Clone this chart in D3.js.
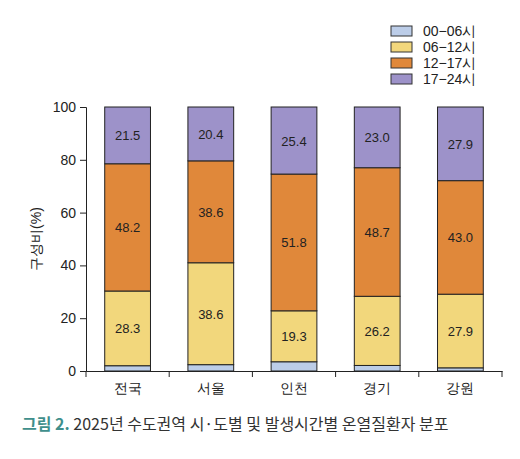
<!DOCTYPE html>
<html><head><meta charset="utf-8">
<script src="https://cdn.jsdelivr.net/npm/d3@7"></script>
<style>body{margin:0;background:#fff}svg{display:block}</style>
</head><body><div id="chart"></div>
<script>
const regions = ["전국", "서울", "인천", "경기", "강원"];
const seriesNames = ["00-06시", "06-12시", "12-17시", "17-24시"];
const v0006 = [2.0, 2.4, 3.5, 2.1, 1.2];
const v0612 = [28.3, 38.6, 19.3, 26.2, 27.9];
const v1217 = [48.2, 38.6, 51.8, 48.7, 43.0];
const v1724 = [21.5, 20.4, 25.4, 23.0, 27.9];
const colors = ["#bccde8", "#f2d77c", "#e0883a", "#9d92c9"];
const yTicks = [0, 20, 40, 60, 80, 100];

const rows = regions.map((r, i) => ({region: r, s0: v0006[i], s1: v0612[i], s2: v1217[i], s3: v1724[i]}));
const stack = d3.stack().keys(["s0", "s1", "s2", "s3"])(rows);

const svg = d3.select("#chart").append("svg").attr("width", 520).attr("height", 459);
const font = "'Liberation Sans', Arial, sans-serif";

const x = d3.scaleBand().domain(regions).range([86, 502]).paddingInner(0.45).paddingOuter(0.225);
const y = d3.scaleLinear().domain([0, 100]).range([371, 107]);

// 막대
stack.forEach((layer, k) => {
    svg.append("g").selectAll("rect").data(layer).enter().append("rect")
        .attr("x", d => x(d.data.region)).attr("width", x.bandwidth())
        .attr("y", d => y(d[1])).attr("height", d => y(d[0]) - y(d[1]))
        .attr("fill", colors[k]).attr("stroke", "#222").attr("stroke-width", 1);
    if (k > 0) {
        svg.append("g").selectAll("text").data(layer).enter().append("text")
            .attr("x", d => x(d.data.region) + x.bandwidth() / 2)
            .attr("y", d => y((d[0] + d[1]) / 2) + 5)
            .attr("text-anchor", "middle").attr("font-family", font).attr("font-size", 13).attr("fill", "#222")
            .text(d => (d[1] - d[0]).toFixed(1));
    }
});

// 축
const xAxis = svg.append("g").attr("transform", "translate(0,371)")
    .call(d3.axisBottom(x).tickSize(0).tickPadding(12));
xAxis.select(".domain").attr("stroke", "#222");
xAxis.selectAll("text").attr("font-family", font).attr("font-size", 14).attr("fill", "#222");
const edges = d3.range(regions.length + 1).map(i => 86 + i * (416 / regions.length));
svg.append("g").selectAll("line").data(edges).enter().append("line")
    .attr("x1", d => d).attr("x2", d => d).attr("y1", 371).attr("y2", 377).attr("stroke", "#222");

const yAxis = svg.append("g").attr("transform", "translate(86,0)")
    .call(d3.axisLeft(y).tickValues(yTicks).tickSize(6).tickPadding(4));
yAxis.selectAll("path,line").attr("stroke", "#222");
yAxis.selectAll("text").attr("font-family", font).attr("font-size", 14).attr("fill", "#222");

svg.append("text").attr("transform", "translate(41,239) rotate(-90)").attr("text-anchor", "middle")
    .attr("font-family", font).attr("font-size", 14).attr("fill", "#222").text("구성비(%)");

// 범례
seriesNames.forEach((n, i) => {
    svg.append("rect").attr("x", 391).attr("y", 26 + i * 16).attr("width", 21).attr("height", 10)
        .attr("fill", colors[i]).attr("stroke", "#333");
    svg.append("text").attr("x", 423).attr("y", 36 + i * 16).attr("font-family", font).attr("font-size", 14)
        .attr("fill", "#222").text(n.replace("-", "−"));
});

// 제목
const cap = svg.append("text").attr("x", 22).attr("y", 430).attr("font-size", 16).attr("font-family", "'Noto Sans CJK KR', sans-serif");
cap.append("tspan").attr("fill", "#3f8f8c").attr("font-weight", "bold").text("그림 2. ");
cap.append("tspan").attr("fill", "#333").text("2025년 수도권역 시·도별 및 발생시간별 온열질환자 분포");
</script></body></html>
